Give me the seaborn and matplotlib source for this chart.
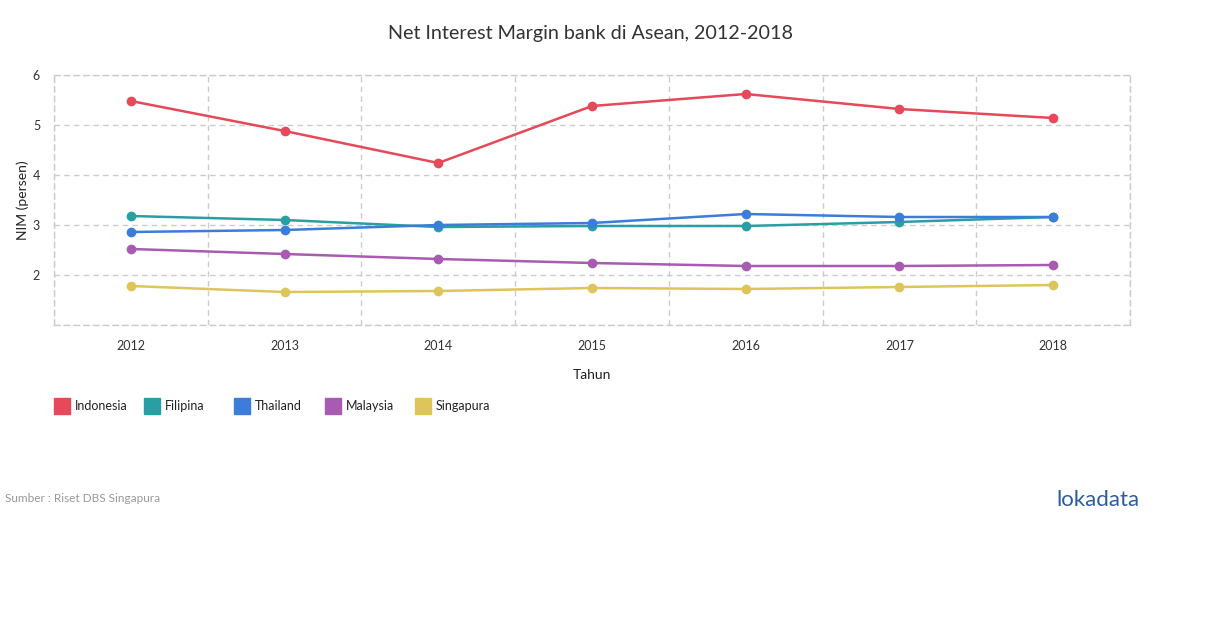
import matplotlib
matplotlib.use("Agg")
import matplotlib.pyplot as plt
import seaborn as sns
import pandas as pd
from matplotlib.patches import Rectangle

years = [2012, 2013, 2014, 2015, 2016, 2017, 2018]
indonesia = [5.48, 4.88, 4.24, 5.38, 5.62, 5.32, 5.14]
filipina = [3.18, 3.10, 2.96, 2.98, 2.98, 3.06, 3.16]
thailand = [2.86, 2.90, 3.00, 3.04, 3.22, 3.16, 3.16]
malaysia = [2.52, 2.42, 2.32, 2.24, 2.18, 2.18, 2.20]
singapura = [1.78, 1.66, 1.68, 1.74, 1.72, 1.76, 1.80]
series_names = ["Indonesia", "Filipina", "Thailand", "Malaysia", "Singapura"]
colors = ["#E5495A", "#2A9FA3", "#3B7DD8", "#A75BB1", "#DEC55B"]
y_ticks = [1, 2, 3, 4, 5, 6]
y_labels = ["", "2", "3", "4", "5", "6"]

rows = []
for name, vals in zip(series_names, [indonesia, filipina, thailand, malaysia, singapura]):
    for y, v in zip(years, vals):
        rows.append({"Tahun": y, "NIM": v, "Negara": name})
df = pd.DataFrame(rows)

sns.set_theme(style="white")
plt.rcParams["font.family"] = ["Lato", "DejaVu Sans"]

fig = plt.figure(figsize=(12.1, 6.28), dpi=100)
W, H = 1210, 628
ax = fig.add_axes([54 / W, 1 - 325 / H, (1130 - 54) / W, (325 - 75) / H])

sns.lineplot(data=df, x="Tahun", y="NIM", hue="Negara", hue_order=series_names,
             palette=colors, marker="o", markersize=7, markeredgewidth=0,
             linewidth=1.8, dashes=False, legend=False, ax=ax)

dash = (0, (4, 3))
ax.set_xlim(years[0] - 0.5, years[-1] + 0.5)
ax.set_ylim(1, 6)
ax.set_xticks(years)
ax.set_xticklabels([str(y) for y in years])
ax.set_xticks([y - 0.5 for y in years] + [years[-1] + 0.5], minor=True)
ax.set_yticks(y_ticks)
ax.set_yticklabels(y_labels)
ax.grid(False)
ax.grid(True, which="minor", axis="x", color="#cccccc", linestyle=dash, linewidth=1)
ax.grid(True, which="major", axis="y", color="#cccccc", linestyle=dash, linewidth=1)
for s in ax.spines.values():
    s.set_visible(True)
    s.set_color("#cccccc")
    s.set_linestyle(dash)
    s.set_linewidth(1)
ax.tick_params(axis="both", which="both", length=0, labelsize=9, colors="#333333")
ax.tick_params(axis="x", pad=11)
ax.tick_params(axis="y", pad=10)
ax.set_xlabel("Tahun", fontsize=10, color="#222222", labelpad=12)
ax.set_ylabel("NIM (persen)", fontsize=10, color="#222222", labelpad=3)

fig.text(590 / W, 1 - 33 / H, "Net Interest Margin bank di Asean, 2012-2018",
         ha="center", va="center", fontsize=14.2, color="#333333")

# legend
lx = [54, 144, 234, 325, 415]
for x0, name, c in zip(lx, series_names, colors):
    fig.patches.append(Rectangle((x0 / W, 1 - 414 / H), 16 / W, 16 / H,
                                 transform=fig.transFigure, color=c, figure=fig))
    fig.text((x0 + 21) / W, 1 - 406 / H, name, ha="left", va="center",
             fontsize=9, color="#222222")

fig.text(5 / W, 1 - 498 / H, "Sumber : Riset DBS Singapura", ha="left", va="center",
         fontsize=8.5, color="#999999")
fig.text(1140 / W, 1 - 500 / H, "lokadata", ha="right", va="center",
         fontsize=16, color="#2D5C9E")

fig.savefig("out.png", dpi=100, facecolor="white")
